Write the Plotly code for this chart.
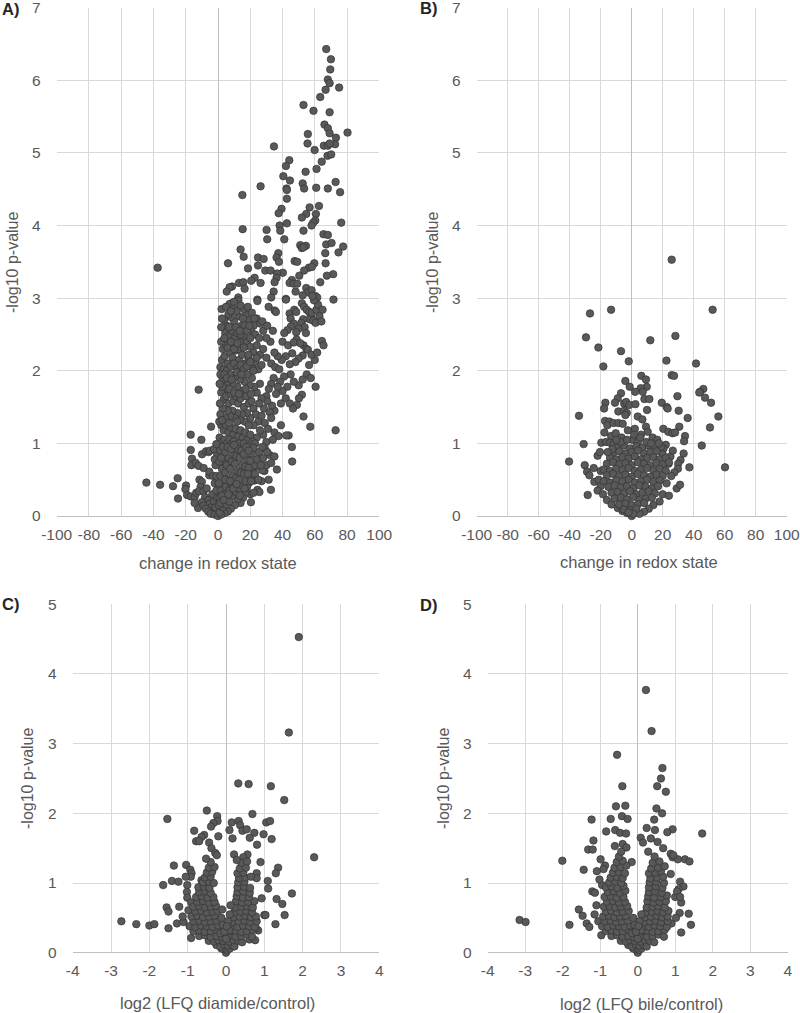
import plotly.graph_objects as go

# ---------------- data ----------------
# tick labels (hyphen-minus as in the original)
redox_ticks = [-100, -80, -60, -40, -20, 0, 20, 40, 60, 80, 100]
redox_ticktext = ["-100", "-80", "-60", "-40", "-20", "0", "20", "40", "60", "80", "100"]
lfq_ticks = [-4, -3, -2, -1, 0, 1, 2, 3, 4]
lfq_ticktext = ["-4", "-3", "-2", "-1", "0", "1", "2", "3", "4"]

# Panel A: change in redox state vs -log10 p-value (diamide)
a_points = [
    (67.1,6.43),(70.0,6.29),(69.6,6.15),(68.1,6.01),(69.2,5.96),(75.1,5.90),(66.7,5.87),(63.4,5.77),(53.0,5.66),(59.2,5.58),
    (69.2,5.56),(66.0,5.39),(68.1,5.34),(80.3,5.28),(69.2,5.27),(55.7,5.26),(55.5,5.13),(73.1,5.21),(65.6,5.10),(68.1,5.10),
    (72.6,5.12),(69.2,5.13),(34.7,5.09),(59.9,5.04),(67.9,4.96),(70.2,4.98),(64.3,4.88),(44.2,4.90),(42.1,4.82),(61.1,4.78),
    (54.3,4.74),(40.5,4.68),(44.6,4.62),(72.9,4.60),(52.5,4.58),(26.4,4.54),(42.5,4.51),(42.7,4.49),(53.4,4.51),(60.9,4.52),
    (68.1,4.51),(75.7,4.46),(15.1,4.42),(42.7,4.37),(62.6,4.27),(56.8,4.25),(39.4,4.23),(37.6,4.17),(54.7,4.16),(60.7,4.16),
    (52.0,4.11),(60.3,4.07),(59.0,4.04),(76.4,4.04),(42.7,4.03),(58.0,4.00),(38.2,4.00),(15.3,3.95),(30.1,3.94),(38.6,3.93),
    (53.0,3.93),(65.4,3.88),(68.1,3.87),(41.1,3.81),(30.5,3.81),(67.1,3.74),(70.4,3.76),(77.6,3.71),(51.0,3.73),(52.0,3.69),
    (54.5,3.72),(53.0,3.70),(14.0,3.67),(66.5,3.62),(74.7,3.63),(15.9,3.57),(37.4,3.62),(36.3,3.56),(24.8,3.56),(28.3,3.54),
    (37.8,3.50),(47.5,3.51),(49.1,3.50),(6.2,3.48),(59.7,3.48),(66.7,3.48),(-37.4,3.42),(24.8,3.45),(56.3,3.42),(58.2,3.43),
    (18.6,3.41),(29.3,3.38),(32.6,3.38),(53.4,3.38),(40.2,3.35),(71.4,3.33),(36.7,3.34),(67.5,3.31),(36.3,3.28),(22.7,3.28),
    (50.4,3.31),(20.6,3.24),(26.4,3.21),(35.1,3.22),(45.8,3.25),(44.4,3.21),(46.9,3.20),(49.1,3.20),(63.4,3.22),(13.0,3.21),
    (15.7,3.22),(16.5,3.13),(8.7,3.16),(7.2,3.15),(54.7,3.14),(55.5,3.08),(58.0,3.11),(5.4,3.09),(34.5,3.09),(48.1,3.09),
    (52.5,3.04),(60.3,3.03),(61.5,3.01),(12.6,3.01),(33.0,3.01),(42.1,2.99),(24.4,2.98),(71.6,2.98),
    # y 2-3
    (8.7,2.93),(7.2,2.92),(9.5,2.86),(12.6,2.97),(24.4,2.96),(31.4,2.88),(35.1,2.83),(35.9,2.81),(42.1,2.98),(44.4,2.79),
    (45.0,2.72),(47.3,2.84),(48.5,2.81),(52.0,2.93),(53.4,2.88),(55.0,2.84),(56.5,2.81),(57.7,2.76),(56.8,2.71),(59.0,2.69),
    (60.5,2.66),(58.2,2.80),(61.0,2.84),(62.0,2.91),(59.5,2.97),(58.5,3.03),(64.8,2.84),(62.9,2.75),(64.1,2.68),(52.8,2.71),
    (51.6,2.66),(53.7,2.60),(49.9,2.58),(48.5,2.53),(46.9,2.65),(45.2,2.61),(43.1,2.56),(41.1,2.52),(40.0,2.40),(43.5,2.35),
    (48.7,2.43),(47.0,2.39),(64.4,2.41),(65.4,2.35),(54.5,2.52),(53.0,2.35),(54.8,2.30),(51.0,2.38),(55.7,2.29),(52.5,2.21),
    (50.0,2.17),(48.0,2.12),(46.0,2.24),(44.5,2.09),(42.0,2.20),(39.5,2.15),(37.0,2.20),(35.0,2.25),(32.5,2.40),(30.0,2.45),
    (28.0,2.55),(26.0,2.65),(24.0,2.72),(27.5,2.68),(22.0,2.62),(20.5,2.55),(19.0,2.70),(17.5,2.78),(16.0,2.85),(14.5,2.62),
    (13.0,2.75),(11.5,2.82),(10.0,2.68),(8.0,2.74),(6.5,2.78),(5.5,2.62),(4.5,2.52),(3.5,2.42),(3.0,2.30),(5.0,2.35),
    (6.8,2.48),(8.5,2.55),(10.5,2.45),(12.0,2.52),(14.0,2.40),(16.0,2.48),(18.0,2.40),(20.0,2.33),(22.0,2.25),(24.0,2.35),
    (26.0,2.22),(28.0,2.30),(30.0,2.18),(33.0,2.10),(35.5,2.05),(38.0,2.02),(2.5,2.15),(4.0,2.20),(6.0,2.10),(7.5,2.25),
    (9.0,2.18),(11.0,2.28),(13.0,2.15),(15.0,2.22),(17.0,2.10),(19.0,2.16),(21.0,2.05),(23.0,2.12),(25.0,2.02),(27.0,2.08),
    (60.0,2.15),(56.5,2.08),(58.0,2.22),(61.5,2.25),(10.0,2.95),(14.0,2.90),(18.5,2.88),(21.0,2.80),(23.0,2.50),(25.5,2.45),
    (2.0,2.60),(2.2,2.85),(3.8,2.70),(7.0,2.60),(9.5,2.36),(16.5,2.63),(12.5,2.30),(18.8,2.22),(30.5,2.62),(34.0,2.55),
    (1.5,2.05),(3.5,2.02),(5.5,2.00),(8.0,2.06),(10.0,2.10),(12.0,2.04),(14.0,2.08),(16.0,2.02),(18.0,2.06),(20.0,2.12),
    (22.0,2.00),(24.0,2.18),(2.0,2.40),(4.0,2.45),(6.0,2.32),(8.0,2.40),(10.0,2.30),(12.0,2.38),(14.0,2.50),(16.0,2.32),
    (18.0,2.55),(20.0,2.45),(2.5,2.72),(5.0,2.88),(8.0,2.82),(11.0,2.60),(13.5,2.55),(15.5,2.72),(19.5,2.62),(22.5,2.72),
    # y 1-2
    (60.5,1.78),(57.2,1.23),(72.9,1.18),(53.0,1.37),(52.0,1.67),(50.2,1.62),(48.9,1.53),(45.8,0.95),(46.0,0.75),(43.8,1.11),
    (42.3,1.11),(36.5,0.64),(55.0,1.95),(57.5,1.90),(52.5,1.88),(50.0,1.80),(47.0,1.85),(45.0,1.95),(43.0,1.78),(41.0,1.92),
    (40.0,1.72),(38.5,1.85),(37.0,1.78),(36.0,1.68),(34.5,1.90),(33.0,1.82),(31.5,1.75),(30.0,1.65),(42.0,1.62),(44.5,1.55),
    (46.5,1.48),(39.0,1.55),(35.0,1.45),(33.5,1.52),(32.0,1.43),(30.5,1.58),(28.5,1.48),(27.0,1.62),(25.5,1.55),(24.0,1.70),
    (26.0,1.82),(22.5,1.78),(21.0,1.90),(19.5,1.80),(18.0,1.95),(16.5,1.85),(15.0,1.72),(13.5,1.88),(12.0,1.78),(10.5,1.92),
    (9.0,1.82),(7.5,1.95),(6.0,1.85),(4.5,1.75),(3.0,1.88),(2.0,1.70),(3.5,1.60),(5.0,1.65),(6.5,1.55),(8.0,1.68),
    (9.5,1.58),(11.0,1.65),(12.5,1.55),(14.0,1.62),(16.0,1.50),(17.5,1.65),(19.0,1.55),(20.5,1.68),(22.0,1.48),(23.5,1.40),
    (25.0,1.30),(27.0,1.38),(29.0,1.28),(31.0,1.20),(33.0,1.35),(35.0,1.15),(37.5,1.10),(39.0,1.25),(34.0,1.05),(30.0,1.02),
    (28.0,1.12),(26.0,1.18),(24.0,1.08),(22.0,1.25),(20.0,1.35),(18.0,1.42),(16.5,1.30),(15.0,1.40),(13.5,1.32),(12.0,1.42),
    (10.5,1.35),(9.0,1.45),(7.5,1.38),(6.0,1.45),(4.5,1.35),(3.0,1.48),(1.5,1.40),(2.0,1.25),(3.5,1.18),(5.0,1.25),
    (6.5,1.15),(8.0,1.22),(9.5,1.12),(11.0,1.20),(12.5,1.10),(14.0,1.18),(15.5,1.08),(17.0,1.15),(18.5,1.05),(20.0,1.12),
    (21.5,1.02),(1.0,1.08),(2.5,1.02),(4.0,1.05),(5.5,1.00),(7.0,1.05),(8.5,1.00),(10.0,1.03),(13.0,1.00),(16.0,1.00),
    (19.0,1.25),(23.0,1.00),(1.5,1.95),(2.8,1.78),(1.2,1.55),(4.0,1.95),(5.5,1.90),(8.5,1.88),(11.5,1.98),(14.5,1.95),
    (1.0,1.82),(0.8,1.30),(7.0,1.75),(10.0,1.70),(13.0,1.68),(2.5,1.32),(6.8,1.28),(11.8,1.30),(17.2,1.75),(20.8,1.58),
    # y 0-1 left / centre
    (-12.0,1.74),(-16.9,1.12),(-4.3,1.23),(-10.3,1.05),(-16.9,0.91),(-16.1,0.79),(-16.5,0.70),(-9.9,0.85),(-7.4,0.89),(-5.8,0.88),
    (-5.0,0.90),(-13.8,0.73),(-12.0,0.69),(-8.9,0.66),(-5.4,0.56),(-5.4,0.61),(-44.4,0.46),(-35.9,0.43),(-27.9,0.41),(-25.0,0.52),
    (-19.8,0.42),(-20.2,0.37),(-24.8,0.24),(-19.2,0.29),(-17.0,0.27),(-14.5,0.26),(-13.5,0.32),(-11.5,0.50),(-10.0,0.47),(-10.8,0.40),
    (-11.8,0.34),(-9.0,0.34),(-7.0,0.38),(-8.0,0.26),(-6.0,0.22),(-5.0,0.17),(-4.0,0.12),(-3.0,0.08),(-12.4,0.11),(-10.0,0.19),
    (-9.0,0.14),(-7.5,0.10),(-6.0,0.06),(-4.5,0.03),(-2.0,0.02),(-2.5,0.20),(-3.5,0.30),(-1.5,0.12),(-1.0,0.35),(-2.0,0.45),
    (-3.0,0.55),(-1.5,0.70),(-0.5,0.85),(-2.5,0.92),(-1.0,0.99),(0.0,0.00),(-14.5,0.18),(-1.0,0.55),(-0.5,0.25),(-2.0,0.78),
    # y 0-1 right
    (32.8,0.36),(31.4,0.50),(28.8,0.62),(27.5,0.63),(22.7,0.49),(24.5,0.36),(25.7,0.33),(20.4,0.19),(19.0,0.45),(18.0,0.40),
    (30.0,0.70),(32.0,0.84),(29.0,0.93),(26.0,0.80),(24.0,0.68),(27.0,0.48),(33.0,0.73),(35.0,0.82),(20.0,0.30),(22.0,0.32),
    (17.0,0.32),(15.5,0.25),(14.0,0.18),(12.0,0.23),(10.5,0.15),(8.0,0.10),(6.0,0.06),(4.0,0.04),(2.0,0.02),(1.0,0.05),
    (3.0,0.12),(5.0,0.16),(7.0,0.20),(9.0,0.28),(11.0,0.33),(13.0,0.38),(15.0,0.42),(17.0,0.48),(19.5,0.55),(21.0,0.62),
    (22.5,0.70),(24.0,0.78),(25.5,0.88),(27.5,0.95),(1.0,0.25),(2.0,0.35),(3.0,0.45),(4.0,0.30),(5.0,0.40),(6.0,0.50),
    (7.0,0.35),(8.0,0.45),(9.0,0.55),(10.0,0.42),(11.0,0.52),(12.0,0.62),(13.0,0.50),(14.0,0.60),(15.0,0.70),(16.0,0.58),
    (17.0,0.68),(18.0,0.78),(19.0,0.66),(20.0,0.76),(21.0,0.86),(22.0,0.94),(1.5,0.55),(2.5,0.65),(3.5,0.75),(4.5,0.60),
    (5.5,0.70),(6.5,0.80),(7.5,0.65),(8.5,0.75),(9.5,0.85),(10.5,0.72),(11.5,0.82),(12.5,0.92),(13.5,0.80),(14.5,0.90),
    (16.0,0.85),(17.5,0.95),(19.0,0.90),(0.5,0.45),(0.8,0.75),(1.2,0.90),(2.0,0.80),(3.0,0.95),(4.5,0.88),(6.0,0.95),
    (8.0,0.92),(10.0,0.98),(0.5,0.15),(1.5,0.18),(2.5,0.28),(3.5,0.22),(4.5,0.50),(6.5,0.30),(7.5,0.48),(9.5,0.38),
    (11.5,0.44),(13.5,0.28),(16.5,0.38),(18.5,0.58),(20.5,0.48),(23.0,0.58),(25.0,0.50),(28.0,0.80),(30.5,0.88),(26.5,0.70),
]

# Panel B: change in redox state vs -log10 p-value (bile)
b_points = [
    (25.8,3.53),(-13.3,2.84),(-26.9,2.79),(52.2,2.84),(-29.5,2.46),(28.2,2.48),(12.0,2.42),(-21.5,2.32),(-6.9,2.27),(-1.9,2.13),
    (22.4,2.14),(41.5,2.10),(-18.3,2.06),(6.2,1.93),(9.2,1.88),(25.8,1.94),(27.3,1.93),(-4.1,1.86),(-1.3,1.78),(9.7,1.78),
    (5.8,1.76),(7.1,1.71),(2.2,1.71),(46.2,1.75),(44.1,1.71),(43.6,1.70),(-6.9,1.69),(29.5,1.65),(47.3,1.63),(-9.0,1.62),
    (-10.8,1.56),(-4.9,1.55),(-3.6,1.57),(8.2,1.61),(11.4,1.61),(-17.0,1.56),(-1.5,1.53),(2.4,1.54),(19.4,1.56),(22.6,1.50),
    (23.2,1.48),(51.2,1.56),(-17.8,1.48),(9.9,1.46),(-8.6,1.44),(-4.9,1.45),(-3.2,1.42),(-4.1,1.39),(30.3,1.45),(-34.0,1.38),
    (55.9,1.37),(36.1,1.35),(3.9,1.37),(6.9,1.33),(-17.2,1.31),(-14.4,1.30),(-15.7,1.25),(-11.8,1.28),(-8.6,1.28),(-5.8,1.27),
    (30.7,1.23),(50.5,1.22),(9.2,1.23),(10.3,1.16),(20.4,1.20),(23.6,1.16),(26.2,1.14),(28.0,1.15),(34.4,1.10),(-17.6,1.15),
    (-13.3,1.10),(-10.3,1.14),(-31.0,0.99),(-19.6,1.01),(-16.6,1.02),(-14.0,1.01),(-11.8,0.99),(33.8,1.03),(45.2,0.97),(-40.4,0.75),
    (-30.3,0.70),(60.2,0.67),(37.2,0.67),(-28.8,0.61),(-27.3,0.56),(-24.1,0.47),(-21.3,0.50),(-20.0,0.41),(-28.4,0.29),(29.0,0.38),
    (31.2,0.43),(33.5,0.86),(31.5,0.77),(30.0,0.72),(29.8,0.65),(27.5,0.60),(25.0,0.82),(26.5,0.90),(22.0,0.98),(20.5,0.93),
    (-22.0,0.83),(-20.5,0.88),(-22.0,0.35),(-18.5,0.30),(-16.0,0.22),(-13.0,0.16),(-9.0,0.11),(-6.0,0.07),(-3.0,0.04),(14.0,0.15),
    (11.0,0.10),(18.0,0.20),(20.0,0.30),(8.0,0.06),(5.0,0.03),(0.0,0.00),(2.0,1.20),(-2.5,1.18),(6.0,1.12),(13.5,1.08),
    (16.5,1.05),(-6.5,1.08),(0.5,1.05),(4.0,1.02),(-20.0,0.62),(-24.5,0.66),(23.8,0.72),(25.5,0.55),(22.5,0.45),(24.0,0.28),
    # dense core
    (-9.0,0.95),(-5.0,0.97),(-1.0,0.93),(3.0,0.96),(7.0,0.94),(11.0,0.97),(15.0,0.92),(19.0,0.95),
    (-12.0,0.87),(-8.0,0.89),(-4.0,0.86),(0.0,0.88),(4.0,0.90),(8.0,0.86),(12.0,0.88),(16.0,0.89),(20.0,0.85),
    (-14.0,0.80),(-10.0,0.78),(-6.0,0.81),(-2.0,0.79),(2.0,0.82),(6.0,0.78),(10.0,0.80),(14.0,0.81),(18.0,0.78),(22.0,0.80),
    (-16.0,0.72),(-12.0,0.74),(-8.0,0.71),(-4.0,0.73),(0.0,0.70),(4.0,0.74),(8.0,0.72),(12.0,0.70),(16.0,0.73),(20.0,0.71),(24.0,0.74),
    (-18.0,0.64),(-14.0,0.62),(-10.0,0.65),(-6.0,0.63),(-2.0,0.66),(2.0,0.62),(6.0,0.64),(10.0,0.66),(14.0,0.63),(18.0,0.65),(22.0,0.62),
    (-16.0,0.56),(-12.0,0.58),(-8.0,0.55),(-4.0,0.57),(0.0,0.54),(4.0,0.58),(8.0,0.56),(12.0,0.54),(16.0,0.57),(20.0,0.55),
    (-18.0,0.48),(-14.0,0.46),(-10.0,0.49),(-6.0,0.47),(-2.0,0.50),(2.0,0.46),(6.0,0.48),(10.0,0.50),(14.0,0.47),(18.0,0.49),
    (-15.0,0.40),(-11.0,0.42),(-7.0,0.39),(-3.0,0.41),(1.0,0.38),(5.0,0.42),(9.0,0.40),(13.0,0.38),(17.0,0.41),
    (-13.0,0.32),(-9.0,0.33),(-5.0,0.31),(-1.0,0.34),(3.0,0.30),(7.0,0.32),(11.0,0.34),(15.0,0.31),
    (-11.0,0.24),(-7.0,0.25),(-3.0,0.23),(1.0,0.26),(5.0,0.22),(9.0,0.24),(13.0,0.25),
    (-8.0,0.16),(-4.0,0.17),(0.0,0.15),(4.0,0.16),(8.0,0.18),(-5.0,0.09),(-1.0,0.08),(3.0,0.10),(1.0,0.03),(-2.0,0.05),
    (-7.0,1.02),(-3.0,1.05),(1.5,1.12),(5.5,1.08),(9.5,1.02),(12.5,1.00),(-10.0,1.05),(-12.5,0.92),(-15.5,0.88),(17.5,1.00),
]

# Panel C: log2 (LFQ diamide/control) vs -log10 p-value
c_points = [
    (1.90,4.53),(1.64,3.16),(0.32,2.43),(0.59,2.42),(1.17,2.39),(1.52,2.19),(-1.53,1.92),(-0.50,2.04),(-0.23,1.96),(-0.22,1.89),
    (-0.33,1.86),(-0.39,1.81),(0.15,1.87),(0.33,1.89),(0.37,1.83),(0.69,1.99),(1.05,1.87),(1.15,1.89),(0.09,1.76),(0.43,1.75),
    (0.54,1.77),(0.74,1.72),(-0.83,1.75),(-0.57,1.69),(-0.64,1.66),(-0.20,1.67),(0.17,1.64),(0.62,1.65),(0.98,1.70),(1.19,1.63),
    (-0.78,1.60),(-0.70,1.60),(0.81,1.55),(2.30,1.37),(-0.44,1.58),(-0.38,1.50),(-0.28,1.43),(0.21,1.41),(0.56,1.41),(0.45,1.37),
    (-0.24,1.40),(0.90,1.30),(-1.04,1.26),(-1.36,1.25),(1.36,1.22),(1.30,1.14),(0.80,1.14),(0.80,1.07),(-0.93,1.19),(-0.90,1.14),
    (-0.92,1.09),(-1.05,1.09),(-1.41,1.03),(-1.24,1.02),(-1.64,0.97),(-0.64,1.04),(1.09,1.03),(1.10,0.92),(1.72,0.85),(1.47,0.70),
    (1.32,0.77),(-1.01,0.97),(-1.02,0.87),(-1.01,0.79),(-0.91,0.72),(0.93,0.78),(-1.55,0.65),(-1.50,0.59),(-1.22,0.66),(1.53,0.54),
    (1.00,0.54),(1.03,0.54),(-2.73,0.45),(-2.34,0.41),(-2.00,0.39),(-1.87,0.41),(-1.50,0.35),(-1.28,0.42),(-1.11,0.44),(-1.13,0.52),
    (-0.98,0.61),(1.29,0.41),(-0.91,0.21),(0.61,0.19),(0.76,0.18),(0.84,0.32),(0.78,0.35),(0.00,0.00),
    (-0.05,0.05),(-0.12,0.06),(0.04,0.04),(0.10,0.06),
    (-0.25,0.11),(-0.15,0.09),(-0.05,0.12),(0.05,0.10),(0.15,0.11),(0.22,0.09),
    (-0.45,0.17),(-0.32,0.16),(-0.20,0.18),(-0.08,0.17),(0.08,0.16),(0.20,0.18),(0.32,0.17),(0.42,0.15),
    (-0.70,0.24),(-0.55,0.25),(-0.40,0.23),(-0.25,0.24),(-0.10,0.22),(0.10,0.25),(0.25,0.23),(0.40,0.24),(0.55,0.26),(0.68,0.23),
    (-0.85,0.31),(-0.70,0.32),(-0.55,0.30),(-0.40,0.31),(-0.25,0.33),(-0.12,0.30),(0.12,0.31),(0.25,0.32),(0.40,0.30),(0.55,0.31),(0.70,0.33),
    (-0.95,0.38),(-0.80,0.37),(-0.65,0.39),(-0.50,0.38),(-0.35,0.37),(-0.20,0.39),(0.15,0.38),(0.30,0.37),(0.45,0.39),(0.60,0.38),(0.75,0.37),
    (-0.85,0.45),(-0.70,0.46),(-0.55,0.44),(-0.40,0.45),(-0.25,0.46),(0.18,0.44),(0.33,0.45),(0.48,0.46),(0.63,0.44),(0.80,0.45),
    (-0.90,0.52),(-0.75,0.53),(-0.60,0.51),(-0.45,0.52),(-0.30,0.53),(0.20,0.51),(0.35,0.52),(0.50,0.53),(0.65,0.51),(0.78,0.52),
    (-0.80,0.59),(-0.65,0.60),(-0.50,0.58),(-0.35,0.59),(-0.22,0.60),(0.22,0.58),(0.38,0.59),(0.53,0.60),(0.68,0.58),
    (-0.85,0.66),(-0.70,0.67),(-0.55,0.65),(-0.40,0.66),(-0.26,0.67),(0.24,0.65),(0.40,0.66),(0.55,0.67),(0.70,0.65),
    (-0.75,0.73),(-0.60,0.74),(-0.45,0.72),(-0.30,0.73),(0.26,0.74),(0.42,0.72),(0.58,0.73),(0.74,0.74),
    (-0.78,0.80),(-0.63,0.81),(-0.48,0.79),(-0.33,0.80),(0.28,0.81),(0.44,0.79),(0.60,0.80),
    (-0.70,0.87),(-0.55,0.88),(-0.40,0.86),(0.30,0.87),(0.45,0.88),(0.62,0.86),
    (-0.72,0.94),(-0.58,0.95),(-0.43,0.93),(0.30,0.94),(0.47,0.95),(0.63,0.93),
    (-0.60,1.01),(-0.45,1.02),(-0.32,1.00),(0.32,1.01),(0.48,1.02),
    (-0.55,1.08),(-0.40,1.09),(0.34,1.07),(0.50,1.08),(0.65,1.09),
    (-0.50,1.15),(-0.36,1.16),(0.30,1.14),(0.45,1.15),
    (-0.45,1.22),(-0.30,1.23),(0.36,1.21),(0.52,1.22),
    (-0.40,1.30),(0.40,1.29),(0.55,1.31),(-0.52,1.35),(0.28,1.33),
    (-0.15,0.28),(0.00,0.20),(0.08,0.32),(-0.08,0.40),(0.05,0.45),(-0.12,0.50),(0.10,0.55),(-0.05,0.30),(0.02,0.38),
    (-0.10,0.62),(0.12,0.68),
]

# Panel D: log2 (LFQ bile/control) vs -log10 p-value
d_points = [
    (0.22,3.77),(0.37,3.18),(-0.55,2.84),(0.66,2.65),(0.62,2.50),(0.52,2.39),(0.75,2.31),(-0.41,2.39),(-0.58,2.10),(-0.33,2.11),
    (0.50,2.07),(0.65,2.00),(-0.42,1.96),(-0.27,1.92),(-0.72,1.92),(-1.23,1.91),(0.44,1.91),(0.24,1.79),(0.46,1.76),(0.93,1.77),
    (0.79,1.73),(1.72,1.71),(-0.84,1.74),(-0.60,1.76),(-0.47,1.72),(-0.31,1.71),(0.35,1.64),(0.08,1.65),(0.14,1.58),(-1.18,1.61),
    (-1.32,1.48),(-1.20,1.48),(-0.61,1.53),(-0.40,1.56),(-0.30,1.51),(0.53,1.59),(0.68,1.50),(0.88,1.42),(0.93,1.37),(1.07,1.34),
    (1.26,1.34),(1.38,1.31),(-2.01,1.32),(-0.99,1.34),(-0.16,1.30),(-1.44,1.19),(-1.09,1.17),(-0.87,1.25),(-0.91,1.20),(0.88,1.13),
    (1.13,1.02),(1.22,0.95),(1.09,0.91),(1.00,0.80),(1.16,0.72),(-1.21,0.88),(-1.14,0.86),(-0.95,0.97),(-1.57,0.62),(-1.47,0.53),
    (-3.15,0.47),(-2.99,0.44),(-1.82,0.40),(-1.36,0.42),(-1.29,0.37),(1.36,0.56),(1.42,0.40),(1.16,0.29),(0.90,0.42),(1.12,0.57),
    (1.02,0.50),(-0.97,0.25),(-1.15,0.55),(-1.10,0.68),(0.00,0.00),(1.05,0.88),(1.13,0.80),(-1.05,0.45),(-1.02,1.05),(0.95,1.40),
    (-0.05,0.05),(-0.12,0.06),(0.04,0.04),(0.10,0.06),
    (-0.25,0.11),(-0.15,0.09),(-0.05,0.12),(0.05,0.10),(0.15,0.11),(0.24,0.09),
    (-0.45,0.17),(-0.32,0.16),(-0.20,0.18),(-0.08,0.17),(0.08,0.16),(0.20,0.18),(0.32,0.17),(0.44,0.15),
    (-0.70,0.24),(-0.55,0.25),(-0.40,0.23),(-0.25,0.24),(-0.10,0.22),(0.10,0.25),(0.25,0.23),(0.40,0.24),(0.55,0.26),(0.70,0.23),
    (-0.85,0.31),(-0.70,0.32),(-0.55,0.30),(-0.40,0.31),(-0.25,0.33),(-0.12,0.30),(0.12,0.31),(0.25,0.32),(0.40,0.30),(0.55,0.31),(0.72,0.33),
    (-0.95,0.38),(-0.80,0.37),(-0.65,0.39),(-0.50,0.38),(-0.35,0.37),(-0.20,0.39),(0.15,0.38),(0.30,0.37),(0.45,0.39),(0.60,0.38),(0.78,0.37),
    (-0.88,0.45),(-0.72,0.46),(-0.57,0.44),(-0.42,0.45),(-0.27,0.46),(0.18,0.44),(0.33,0.45),(0.48,0.46),(0.63,0.44),(0.80,0.45),
    (-0.92,0.52),(-0.77,0.53),(-0.62,0.51),(-0.47,0.52),(-0.32,0.53),(0.20,0.51),(0.35,0.52),(0.50,0.53),(0.65,0.51),(0.80,0.52),
    (-0.85,0.59),(-0.70,0.60),(-0.55,0.58),(-0.40,0.59),(-0.24,0.60),(0.22,0.58),(0.38,0.59),(0.53,0.60),(0.68,0.58),(0.82,0.60),
    (-0.90,0.66),(-0.75,0.67),(-0.60,0.65),(-0.45,0.66),(-0.28,0.67),(0.24,0.65),(0.40,0.66),(0.55,0.67),(0.72,0.65),
    (-0.82,0.73),(-0.66,0.74),(-0.50,0.72),(-0.34,0.73),(0.26,0.74),(0.42,0.72),(0.58,0.73),(0.75,0.74),
    (-0.88,0.80),(-0.72,0.81),(-0.56,0.79),(-0.38,0.80),(0.28,0.81),(0.44,0.79),(0.62,0.80),(0.78,0.82),
    (-0.80,0.87),(-0.64,0.88),(-0.48,0.86),(-0.33,0.89),(0.30,0.87),(0.46,0.88),(0.64,0.86),
    (-0.85,0.94),(-0.70,0.95),(-0.54,0.93),(-0.38,0.96),(0.30,0.94),(0.48,0.95),(0.66,0.93),
    (-0.76,1.01),(-0.60,1.02),(-0.44,1.00),(0.32,1.01),(0.50,1.02),(0.70,1.00),
    (-0.72,1.08),(-0.56,1.09),(-0.40,1.07),(0.34,1.07),(0.52,1.08),(0.68,1.09),
    (-0.66,1.15),(-0.50,1.16),(-0.34,1.14),(0.30,1.14),(0.47,1.15),(0.62,1.17),
    (-0.62,1.22),(-0.46,1.23),(-0.30,1.25),(0.36,1.21),(0.54,1.22),(0.72,1.24),
    (-0.56,1.30),(-0.40,1.32),(0.40,1.29),(0.58,1.31),(-0.50,1.38),(0.45,1.38),(-0.44,1.45),(0.28,1.45),
    (-0.15,0.28),(0.00,0.20),(0.08,0.32),(-0.08,0.40),(0.05,0.45),(-0.12,0.50),(0.10,0.55),(-0.05,0.30),(0.02,0.38),
]

# ---------------- figure ----------------
W, H = 800, 1013
FONT = "Liberation Sans, Arial, sans-serif"
GRID = "#d9d9d9"
TXT = "#595959"

fig = go.Figure()

panels = [
    (a_points, "x", "y"),
    (b_points, "x2", "y2"),
    (c_points, "x3", "y3"),
    (d_points, "x4", "y4"),
]
for pts, xa, ya in panels:
    fig.add_trace(go.Scatter(
        x=[p[0] for p in pts], y=[p[1] for p in pts],
        xaxis=xa, yaxis=ya, mode="markers",
        marker=dict(size=7.5, color="#595959", line=dict(color="#333333", width=0.7)),
        showlegend=False, hoverinfo="skip", cliponaxis=False,
    ))

def px_x(v):
    return v / W

def px_y(v):
    return 1 - v / H

def xax(domain, rng, vals, text, anchor):
    return dict(domain=domain, range=rng, tickmode="array", tickvals=vals, ticktext=text, tickangle=0,
                showgrid=True, gridcolor=GRID, gridwidth=1, automargin=False, anchor=anchor,
                ticklabeloverflow="allow",
                zeroline=True, zerolinecolor="#bfbfbf", zerolinewidth=1, showline=False,
                ticks="", ticklabelstandoff=7, tickfont=dict(family=FONT, size=15.5, color=TXT), fixedrange=True)

def yax(domain, rng, anchor):
    return dict(domain=domain, range=rng, dtick=1, tick0=0, showgrid=True, gridcolor=GRID, gridwidth=1,
                zeroline=True, zerolinecolor="#bfbfbf", zerolinewidth=1, showline=False, anchor=anchor,
                automargin=False, tickangle=0, ticklabeloverflow="allow",
                ticks="", ticklabelstandoff=15, tickfont=dict(family=FONT, size=15.5, color=TXT), fixedrange=True)

top_dom = [px_y(516), px_y(7.7)]
bot_dom = [px_y(952.7), px_y(604.3)]

fig.update_layout(
    width=W, height=H, margin=dict(l=0, r=0, t=0, b=0, autoexpand=False),
    paper_bgcolor="white", plot_bgcolor="white",
    font=dict(family=FONT, color=TXT),
    xaxis=xax([px_x(56.7), px_x(379.3)], [-100, 100], redox_ticks, redox_ticktext, "y"),
    yaxis=yax(top_dom, [0, 7], "x"),
    xaxis2=xax([px_x(476.7), px_x(786.7)], [-100, 100], redox_ticks, redox_ticktext, "y2"),
    yaxis2=yax(top_dom, [0, 7], "x2"),
    xaxis3=xax([px_x(72.7), px_x(379.3)], [-4, 4], lfq_ticks, lfq_ticktext, "y3"),
    yaxis3=yax(bot_dom, [0, 5], "x3"),
    xaxis4=xax([px_x(487.7), px_x(787.7)], [-4, 4], lfq_ticks, lfq_ticktext, "y4"),
    yaxis4=yax(bot_dom, [0, 5], "x4"),
)

ann = []
for txt, x, y in [("A)", 0, 9), ("B)", 418, 8), ("C)", 0, 604), ("D)", 418, 605)]:
    ann.append(dict(text="<b>%s</b>" % txt, x=px_x(x), y=px_y(y), xref="paper", yref="paper",
                    xanchor="left", yanchor="middle", showarrow=False,
                    font=dict(family=FONT, size=16.5, color="#262626")))
for x, y in [(12, 262), (432, 262), (27, 778), (443, 778)]:
    ann.append(dict(text="-log10 p-value", x=px_x(x), y=px_y(y), xref="paper", yref="paper",
                    xanchor="center", yanchor="middle", textangle=-90, showarrow=False,
                    font=dict(family=FONT, size=16, color=TXT)))
for txt, x, y in [("change in redox state", 218, 563), ("change in redox state", 639, 562),
                  ("log2 (LFQ diamide/control)", 217, 1003), ("log2 (LFQ bile/control)", 641, 1004)]:
    ann.append(dict(text=txt, x=px_x(x), y=px_y(y), xref="paper", yref="paper",
                    xanchor="center", yanchor="middle", showarrow=False,
                    font=dict(family=FONT, size=16.5, color=TXT)))
fig.update_layout(annotations=ann)

fig.write_html("out.html", config={"displayModeBar": False},
               post_script="document.body.style.margin='0px';document.body.style.overflow='hidden';")
